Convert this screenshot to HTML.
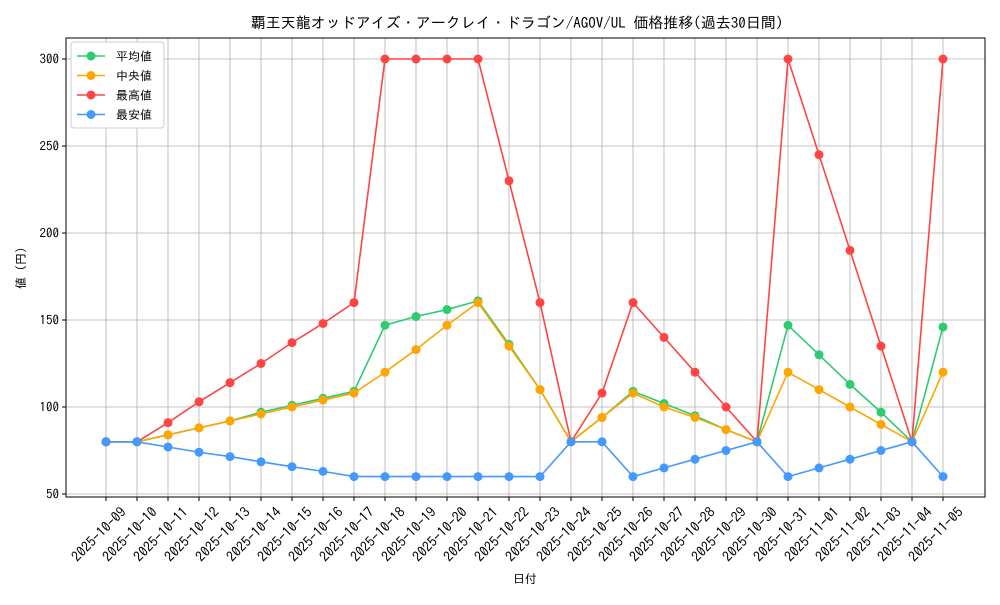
<!DOCTYPE html>
<html><head><meta charset="utf-8"><style>body{margin:0;background:#fff}svg text{font-family:"IPAGothic","Noto Sans CJK JP",sans-serif}</style></head>
<body>
<svg id="chart" width="1000" height="600">
<rect x="0" y="0" width="1000" height="600" fill="#fff"/>
<text x="517" y="28" font-size="15" text-anchor="middle">覇王天龍オッドアイズ・アークレイ・ドラゴン/AGOV/UL 価格推移(過去30日間)</text>
<g id="grid"></g>
<rect x="66" y="38" width="919" height="459" fill="none" stroke="#000" stroke-width="1"/>
<g id="axes"></g>
<g id="series"></g>
<text x="525" y="583" font-size="12" text-anchor="middle">日付</text>
<text transform="translate(25,268) rotate(-90)" font-size="12" text-anchor="middle">値 (円)</text>
<g id="legend"></g>
</svg>
<script>
const dates=["2025-10-09","2025-10-10","2025-10-11","2025-10-12","2025-10-13","2025-10-14","2025-10-15","2025-10-16","2025-10-17","2025-10-18","2025-10-19","2025-10-20","2025-10-21","2025-10-22","2025-10-23","2025-10-24","2025-10-25","2025-10-26","2025-10-27","2025-10-28","2025-10-29","2025-10-30","2025-10-31","2025-11-01","2025-11-02","2025-11-03","2025-11-04","2025-11-05"];
const avgVals=[80,80,84,88,92,97,101,105,109,147,152,156,161,136,110,80,94,109,102,95,87,80,147,130,113,97,80,146];
const medVals=[80,80,84,88,92,96,100,104,108,120,133,147,160,135,110,80,94,108,100,94,87,80,120,110,100,90,80,120];
const maxVals=[80,80,91,103,114,125,137,148,160,300,300,300,300,230,160,80,108,160,140,120,100,80,300,245,190,135,80,300];
const minVals=[80,80,77,74,71.5,68.5,65.7,63,60,60,60,60,60,60,60,80,80,60,65,70,75,80,60,65,70,75,80,60];
const yTicks=[50,100,150,200,250,300];
const seriesNames=["平均値","中央値","最高値","最安値"];
const NS="http://www.w3.org/2000/svg";
const xs=i=>106+i*(943-106)/(dates.length-1);
const ys=v=>494-(v-50)*87/50;
function mk(tag,attrs,parent){const e=document.createElementNS(NS,tag);for(const k in attrs)e.setAttribute(k,attrs[k]);parent.appendChild(e);return e;}
const grid=document.getElementById('grid'),axes=document.getElementById('axes'),ser=document.getElementById('series'),leg=document.getElementById('legend');
dates.forEach((d,i)=>{
 const x=xs(i);
 const g=mk('line',{x1:x,x2:x,y1:38,y2:497,stroke:'#b0b0b0','stroke-width':0.8},grid);
 
 
 mk('line',{x1:x,x2:x,y1:497,y2:501,stroke:'#000'},axes);
 const ax=x+21, ay=513;
 const t=mk('text',{x:ax,y:ay,'font-size':14,'text-anchor':'end',transform:`rotate(-45 ${ax} ${ay})`},axes);
 t.textContent=d;
 
 
});
yTicks.forEach(v=>{
 const y=ys(v);
 const g=mk('line',{x1:66,x2:985,y1:y,y2:y,stroke:'#b0b0b0','stroke-width':0.8},grid);
 
 
 mk('line',{x1:62,x2:66,y1:y,y2:y,stroke:'#000'},axes);
 const t=mk('text',{x:59,y:y+4.5,'font-size':13,'text-anchor':'end'},axes);
 t.textContent=v;
 
 
});
const all=[avgVals,medVals,maxVals,minVals];
const colors=["#2ecc71","#ffa500","#ff4444","#4499ff"];
const keys=["average","median","max","min"];
all.forEach((vals,s)=>{
 const g=mk('g',{},ser);
 
 
 mk('polyline',{points:vals.map((v,i)=>xs(i)+','+ys(v)).join(' '),fill:'none',stroke:colors[s],'stroke-width':1.6},g);
 vals.forEach((v,i)=>{
  const c=mk('circle',{cx:xs(i),cy:ys(v),r:4.5,fill:colors[s]},g);
  
  
 });
});
const lb=mk('rect',{x:71,y:42,width:93,height:86,fill:'#fff',stroke:'#ccc',rx:3},leg);


seriesNames.forEach((n,s)=>{
 const y=56+s*19.5;
 const g=mk('g',{},leg);
 
 
 mk('line',{x1:77,x2:105,y1:y,y2:y,stroke:colors[s],'stroke-width':1.6},g);
 mk('circle',{cx:91,cy:y,r:4.5,fill:colors[s]},g);
 const t=mk('text',{x:116,y:y+4.5,'font-size':12},g);
 t.textContent=n;
});
</script>
</body></html>
